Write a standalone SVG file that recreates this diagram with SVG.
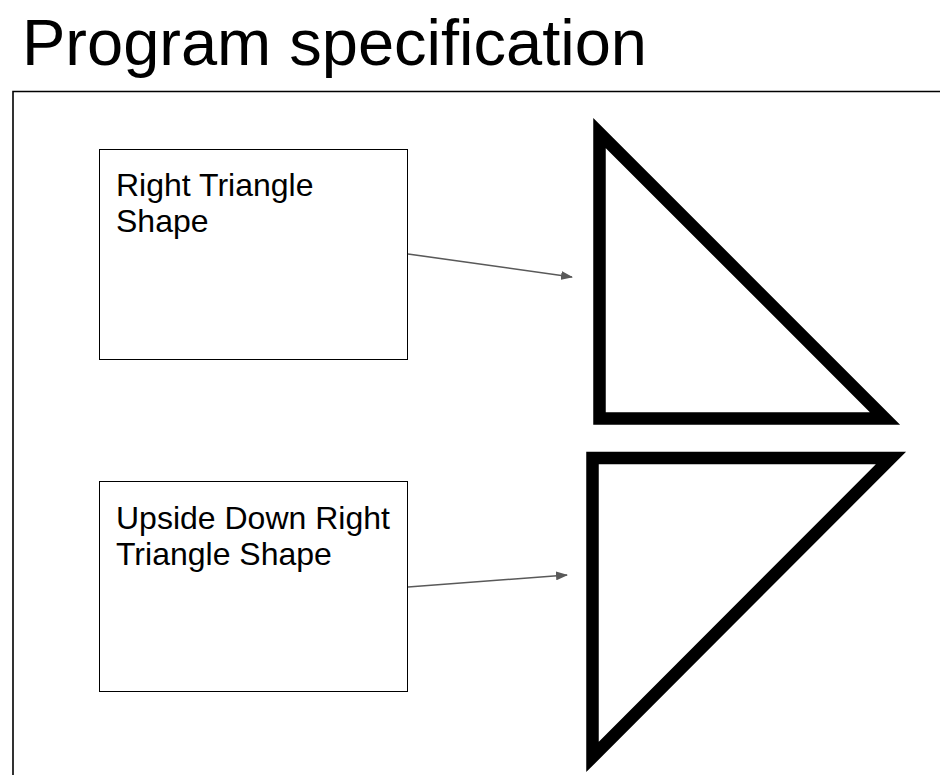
<svg xmlns="http://www.w3.org/2000/svg" width="940" height="775" viewBox="0 0 940 775">
<style>
.title{font-family:"Liberation Sans",Arial,sans-serif;font-size:65px;fill:#000}
.lbl{font-family:"Liberation Sans",Arial,sans-serif;font-size:32px;fill:#000}
.box{fill:#fff;stroke:#000;stroke-width:1}
.tri{fill:none;stroke:#000;stroke-width:12.5;stroke-linejoin:miter;stroke-miterlimit:10}
.conn{stroke:#595959;stroke-width:1.6;fill:none}
</style>
<defs>
<marker id="ah" markerWidth="12" markerHeight="9" refX="11" refY="4.5" orient="auto" markerUnits="userSpaceOnUse">
<path d="M0,0 L12,4.5 L0,9 Z" fill="#595959"/>
</marker>
</defs>
<rect width="940" height="775" fill="#fff"/>
<text class="title" x="22" y="65">Program specification</text>
<path d="M13,776 V91.5 H941" fill="none" stroke="#000" stroke-width="1.6"/>
<g id="box1">
<rect class="box" x="99.5" y="149.5" width="308" height="210"/>
<text class="lbl" x="116" y="196">Right Triangle</text>
<text class="lbl" x="116" y="232">Shape</text>
</g>
<g id="box2">
<rect class="box" x="99.5" y="481.5" width="308" height="210"/>
<text class="lbl" x="116" y="529">Upside Down Right</text>
<text class="lbl" x="116" y="565">Triangle Shape</text>
</g>
<g id="triangle1">
<polygon class="tri" points="599.5,133 599.5,418.5 885,418.5"/>
</g>
<g id="triangle2">
<polygon class="tri" points="592.5,458 891,458 592.5,757"/>
</g>
<g id="connectors">
<line class="conn" x1="408" y1="254" x2="572" y2="277" marker-end="url(#ah)"/>
<line class="conn" x1="408" y1="587" x2="567" y2="575" marker-end="url(#ah)"/>
</g>
</svg>
